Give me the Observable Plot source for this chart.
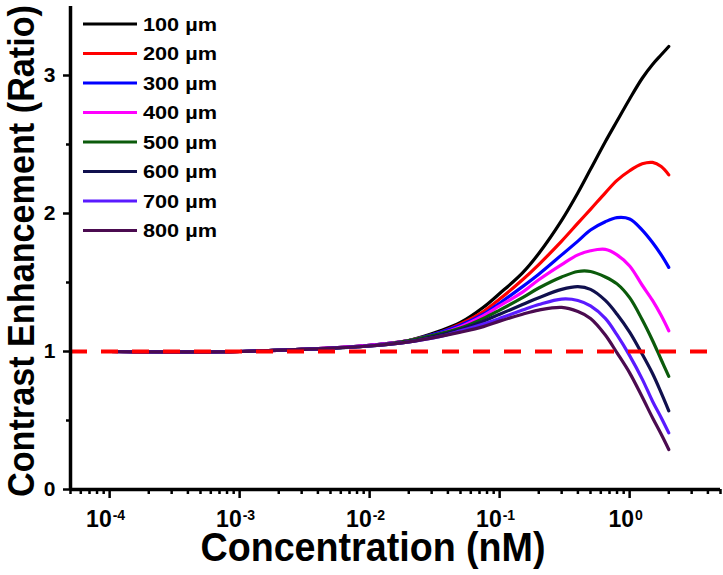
<!DOCTYPE html>
<html><head><meta charset="utf-8">
<script src="https://cdn.jsdelivr.net/npm/d3@7"></script>
<script src="https://cdn.jsdelivr.net/npm/@observablehq/plot@0.6"></script>
<style>
html,body{margin:0;padding:0;background:#fff;}
#chart{width:723px;height:575px;}
</style></head><body><div id="chart"></div>
<script>
// ---- data ----
const concentration = [1e-4, 1e-3, 3e-3, 0.01, 0.02, 0.035, 0.05, 0.075, 0.1, 0.15, 0.2, 0.3, 0.4, 0.5, 0.65, 0.8, 1.0, 1.25, 1.5, 1.75, 2.0];
const seriesNames = ["100 µm", "200 µm", "300 µm", "400 µm", "500 µm", "600 µm", "700 µm", "800 µm"];
const seriesColors = ["#000000", "#ff0000", "#0000ff", "#ff00ff", "#0b5b0b", "#10104e", "#5a1aff", "#4b0b50"];
const ce100 = [1.00, 1.00, 1.015, 1.045, 1.08, 1.15, 1.21, 1.32, 1.42, 1.57, 1.71, 1.95, 2.15, 2.32, 2.52, 2.67, 2.83, 2.98, 3.08, 3.15, 3.21];
const ce200 = [1.00, 1.00, 1.015, 1.045, 1.08, 1.14, 1.20, 1.29, 1.38, 1.52, 1.63, 1.80, 1.93, 2.03, 2.15, 2.24, 2.31, 2.36, 2.37, 2.34, 2.28];
const ce300 = [1.00, 1.00, 1.015, 1.045, 1.08, 1.14, 1.19, 1.27, 1.35, 1.47, 1.56, 1.70, 1.80, 1.88, 1.94, 1.97, 1.96, 1.88, 1.79, 1.70, 1.61];
const ce400 = [1.00, 1.00, 1.015, 1.045, 1.08, 1.13, 1.18, 1.26, 1.33, 1.43, 1.52, 1.63, 1.70, 1.73, 1.74, 1.70, 1.62, 1.48, 1.37, 1.26, 1.15];
const ce500 = [1.00, 1.00, 1.015, 1.04, 1.08, 1.13, 1.17, 1.24, 1.30, 1.39, 1.46, 1.54, 1.58, 1.58, 1.54, 1.49, 1.39, 1.23, 1.08, 0.94, 0.82];
const ce600 = [1.00, 1.00, 1.015, 1.04, 1.07, 1.12, 1.16, 1.22, 1.27, 1.34, 1.39, 1.45, 1.47, 1.45, 1.37, 1.27, 1.14, 0.98, 0.84, 0.70, 0.57];
const ce700 = [1.00, 1.00, 1.015, 1.04, 1.07, 1.11, 1.15, 1.20, 1.24, 1.30, 1.34, 1.38, 1.37, 1.33, 1.24, 1.12, 0.97, 0.80, 0.64, 0.52, 0.41];
const ce800 = [1.00, 1.00, 1.015, 1.04, 1.07, 1.11, 1.14, 1.18, 1.22, 1.27, 1.30, 1.32, 1.29, 1.24, 1.12, 0.99, 0.845, 0.67, 0.52, 0.40, 0.29];
const referenceLevel = [1];
const xMajorTicks = [1e-4, 1e-3, 1e-2, 1e-1, 1];
const xMajorLabels = ["-4", "-3", "-2", "-1", "0"];
const xMinorTicks = [5e-5, 6e-5, 7e-5, 8e-5, 9e-5,
  2e-4, 3e-4, 4e-4, 5e-4, 6e-4, 7e-4, 8e-4, 9e-4,
  2e-3, 3e-3, 4e-3, 5e-3, 6e-3, 7e-3, 8e-3, 9e-3,
  2e-2, 3e-2, 4e-2, 5e-2, 6e-2, 7e-2, 8e-2, 9e-2,
  0.2, 0.3, 0.4, 0.5, 0.6, 0.7, 0.8, 0.9,
  2, 3, 4, 5];
const yMajorTicks = [0, 1, 2, 3];
const yMinorTicks = [0.5, 1.5, 2.5];
const xTitle = "Concentration (nM)";
const yTitle = "Contrast Enhancement (Ratio)";

const allSeries = [ce100, ce200, ce300, ce400, ce500, ce600, ce700, ce800];
const rows = [];
allSeries.forEach((vals, i) => vals.forEach((v, j) => rows.push({series: seriesNames[i], c: concentration[j], v})));

const FONT = "'Liberation Sans', Arial, sans-serif";

const svg = Plot.plot({
  width: 723, height: 575,
  marginLeft: 70, marginRight: 3, marginTop: 6, marginBottom: 86,
  style: {fontFamily: FONT, fontWeight: "bold", background: "white", color: "black", overflow: "visible"},
  x: {type: "log", domain: [5e-5, 5]},
  y: {domain: [0, 3.5]},
  color: {domain: seriesNames, range: seriesColors},
  marks: [
    Plot.line(rows, {x: "c", y: "v", z: "series", stroke: "series", strokeWidth: 3.2, curve: "catmull-rom"}),
    Plot.ruleY(referenceLevel, {stroke: "#ff0000", strokeWidth: 4, strokeDasharray: "17,14"}),
    Plot.axisX(xMajorTicks, {tickSize: 9, tickPadding: 12, strokeWidth: 2.5, fontSize: 23, label: null,
      tickFormat: d => xMajorLabels[xMajorTicks.indexOf(d)]}),
    Plot.axisX(xMinorTicks, {tickSize: 5, strokeWidth: 2.5, label: null, tickFormat: () => ""}),
    Plot.axisY(yMajorTicks, {tickSize: 7, tickPadding: 8, strokeWidth: 2.5, fontSize: 21, label: null,
      tickFormat: d => String(d)}),
    Plot.axisY(yMinorTicks, {tickSize: 4, strokeWidth: 2.5, label: null, tickFormat: () => ""}),
    Plot.ruleX([5e-5], {strokeWidth: 3.5}),
    Plot.ruleY([0], {strokeWidth: 3.5})
  ]
});
document.getElementById("chart").appendChild(svg);

const s = d3.select(svg);
// drop the empty labels of the minor ticks
s.selectAll('[aria-label$="tick label"] text').filter(function() { return !this.textContent; }).remove();
// superscript exponents on the x tick labels
s.selectAll('[aria-label="x-axis tick label"] text').each(function() {
  const e = this.textContent;
  if (!e) return;
  const t = d3.select(this);
  t.text(null);
  t.append("tspan").attr("dx", -4).text("10");
  t.append("tspan").attr("dx", 1).attr("dy", "-0.5em").attr("font-size", 14).text(e);
});

// axis titles
s.append("text")
  .attr("x", 373).attr("y", 561)
  .attr("text-anchor", "middle")
  .attr("font-family", FONT).attr("font-weight", "bold").attr("font-size", 40)
  .attr("textLength", 345).attr("lengthAdjust", "spacingAndGlyphs")
  .text(xTitle);
s.append("text")
  .attr("transform", "translate(34,251) rotate(-90)")
  .attr("text-anchor", "middle")
  .attr("font-family", FONT).attr("font-weight", "bold").attr("font-size", 36)
  .attr("textLength", 492).attr("lengthAdjust", "spacingAndGlyphs")
  .text(yTitle);

// legend
const lg = s.append("g").attr("font-family", FONT).attr("font-weight", "bold").attr("font-size", 19)
  .attr("text-anchor", "start");
seriesNames.forEach((name, i) => {
  const y = 24 + i * 29.5;
  lg.append("line").attr("x1", 83).attr("x2", 137).attr("y1", y).attr("y2", y)
    .attr("stroke", seriesColors[i]).attr("stroke-width", 3.2);
  lg.append("text").attr("x", 143).attr("y", y).attr("dy", "0.36em")
    .attr("textLength", 74).attr("lengthAdjust", "spacingAndGlyphs").text(name);
});
</script>
</body></html>
